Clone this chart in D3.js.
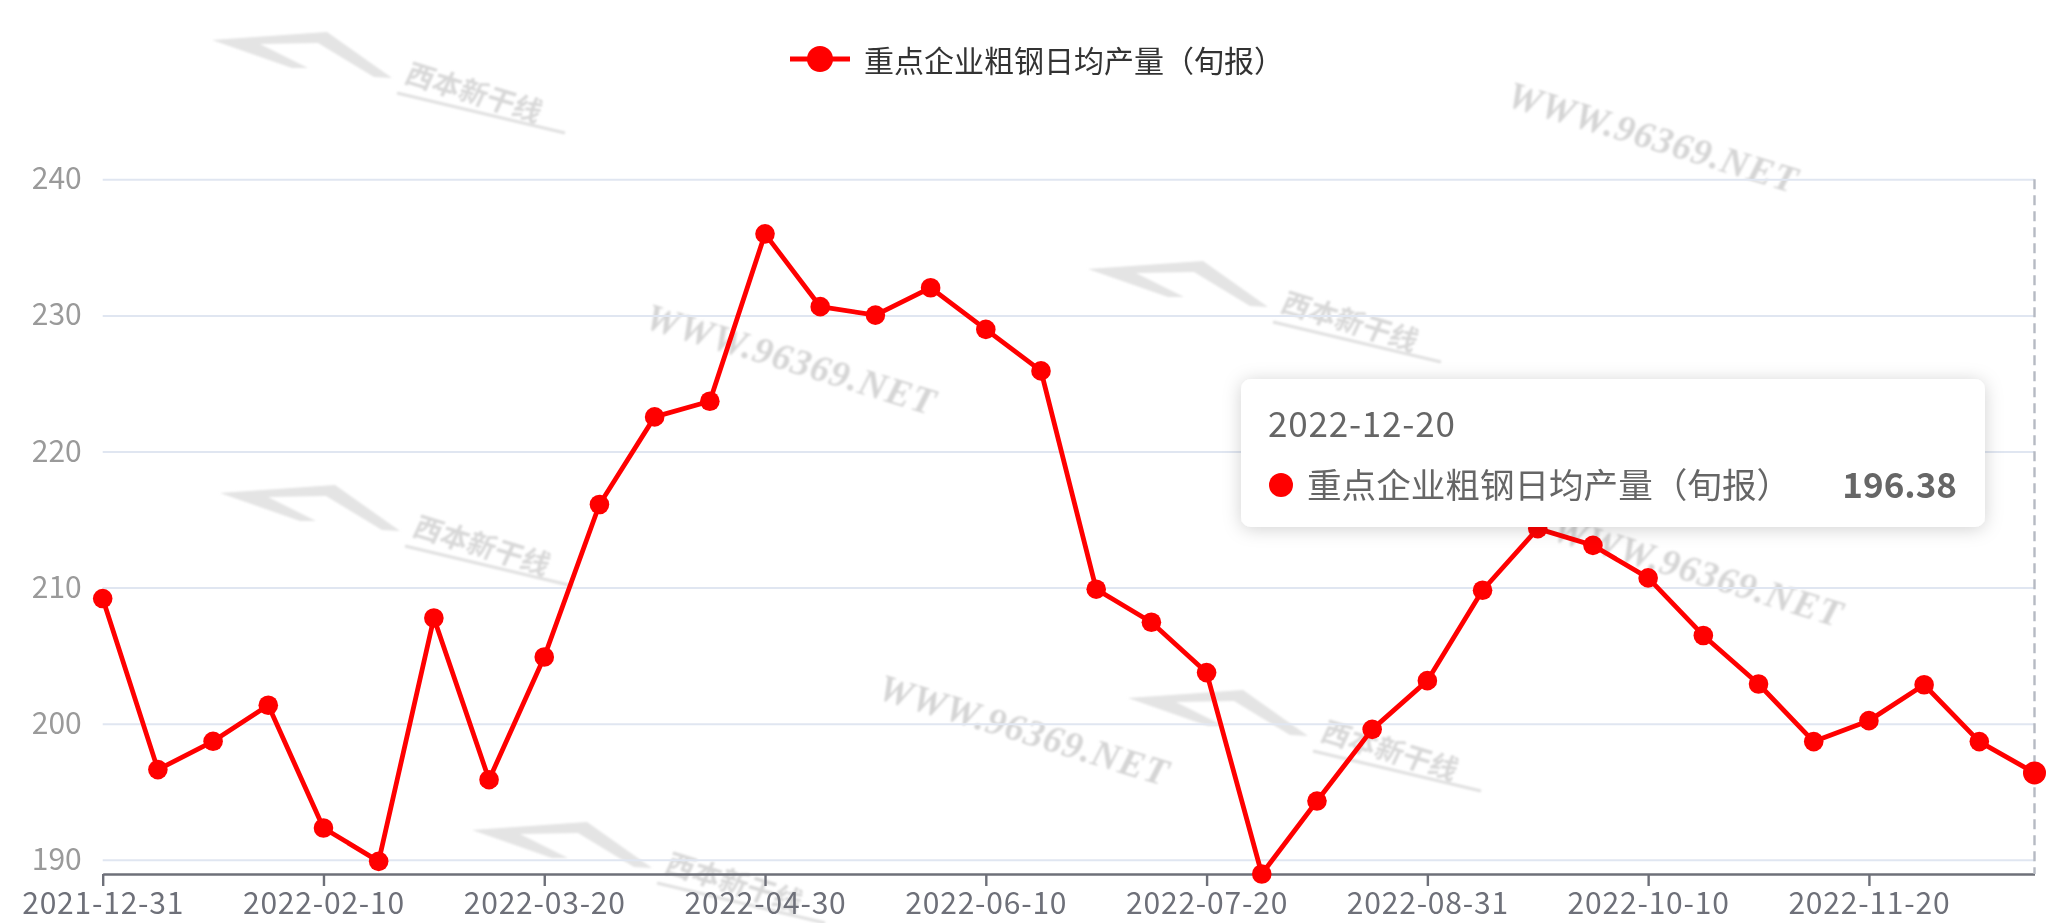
<!DOCTYPE html>
<html>
<head>
<meta charset="utf-8">
<script src="https://cdn.jsdelivr.net/npm/d3@7"></script>
<style>
  html, body { margin: 0; padding: 0; background: #fff; }
  svg { display: block; }
</style>
</head>
<body>
<svg id="chart" width="2063" height="923"></svg>
<script>
// ---------- data ----------
const seriesName = "重点企业粗钢日均产量（旬报）";
const dates = [
  "2021-12-31","2022-01-10","2022-01-20","2022-01-31","2022-02-10","2022-02-20","2022-02-28",
  "2022-03-10","2022-03-20","2022-03-31","2022-04-10","2022-04-20","2022-04-30","2022-05-10",
  "2022-05-20","2022-05-31","2022-06-10","2022-06-20","2022-06-30","2022-07-10","2022-07-20",
  "2022-07-31","2022-08-10","2022-08-20","2022-08-31","2022-09-10","2022-09-20","2022-09-30",
  "2022-10-10","2022-10-20","2022-10-31","2022-11-10","2022-11-20","2022-11-30","2022-12-10",
  "2022-12-20"
];
const values = [
  209.19, 196.62, 198.70, 201.35, 192.33, 189.88, 207.76,
  195.88, 204.90, 216.10, 222.54, 223.69, 235.99, 230.64,
  230.02, 232.03, 228.97, 225.92, 209.88, 207.45, 203.75,
  188.95, 194.31, 199.58, 203.16, 209.80, 214.33, 213.10,
  210.71, 206.48, 202.91, 198.68, 200.22, 202.86, 198.68,
  196.38
];
const yTicks = [190, 200, 210, 220, 230, 240];
const xTickLabels = ["2021-12-31","2022-02-10","2022-03-20","2022-04-30","2022-06-10",
                     "2022-07-20","2022-08-31","2022-10-10","2022-11-20"];
const yMax = 240;
const tooltipIndex = 35;

// ---------- layout ----------
const W = 2063, H = 923;
const plot = { left: 102.7, right: 2034.5, top: 179.3, bottom: 874 };
const cjk = "'Noto Sans CJK SC', 'Noto Sans', sans-serif";

const svg = d3.select("#chart");
const defs = svg.append("defs");
const f = defs.append("filter").attr("id", "shadow")
  .attr("x", "-10%").attr("y", "-30%").attr("width", "120%").attr("height", "160%");
f.append("feDropShadow").attr("dx", 0).attr("dy", 2).attr("stdDeviation", 9)
  .attr("flood-color", "#000").attr("flood-opacity", 0.18);
const blur = defs.append("filter").attr("id", "wmblur");
blur.append("feGaussianBlur").attr("stdDeviation", 0.9);

// ---------- watermarks (background) ----------
const wm = svg.append("g").attr("filter", "url(#wmblur)");
const logos = [[380, 80], [1256, 309], [388, 533], [1296, 738], [640, 870]];
logos.forEach(([cx, cy]) => {
  const g = wm.append("g").attr("transform", `translate(${cx},${cy})`);
  g.append("path")
    .attr("d", "M-168,-40 L-53,-48 L12,-2 L-6,-3 L-62,-37 L-120,-36 L-72,-12 L-88,-12 Z")
    .attr("fill", "#e4e4e4");
  g.append("text")
    .attr("transform", "translate(93,15) rotate(17) skewX(-8)")
    .attr("text-anchor", "middle").attr("dominant-baseline", "middle")
    .attr("font-family", cjk).attr("font-size", 28).attr("font-weight", 700)
    .attr("fill", "#d8d8d8").text("西本新干线");
  g.append("line").attr("x1", 17).attr("y1", 13).attr("x2", 185).attr("y2", 53)
    .attr("stroke", "#e0e0e0").attr("stroke-width", 3);
});
const wwws = [[1652, 141], [790, 363], [1697, 575], [1023, 734]];
wwws.forEach(([cx, cy]) => {
  wm.append("text")
    .attr("transform", `translate(${cx},${cy}) rotate(17)`)
    .attr("text-anchor", "middle").attr("dominant-baseline", "middle")
    .attr("font-family", "'Liberation Serif', serif").attr("font-style", "italic")
    .attr("font-weight", 700).attr("font-size", 38).attr("letter-spacing", 1)
    .attr("fill", "#d4d4d4").text("WWW.96369.NET");
});

// ---------- scales ----------
const x = d3.scalePoint().domain(dates).range([plot.left, plot.right]);
const y = d3.scaleLinear().domain([d3.min(values), yMax]).range([plot.bottom, plot.top]);

// ---------- y grid + labels ----------
const yAxis = svg.append("g").attr("transform", `translate(${plot.left},0)`)
  .call(d3.axisLeft(y).tickValues(yTicks).tickSize(-(plot.right - plot.left)).tickPadding(21)
        .tickFormat(d3.format("d")));
yAxis.select(".domain").remove();
yAxis.selectAll(".tick line").attr("stroke", "#E0E6F1").attr("stroke-width", 2);
yAxis.selectAll(".tick text").attr("fill", "#9a9a9a").attr("font-size", 30)
  .attr("font-family", cjk);

// ---------- x axis ----------
const xAxis = svg.append("g").attr("transform", `translate(0,${plot.bottom})`)
  .call(d3.axisBottom(x).tickValues(xTickLabels).tickSize(12).tickPadding(7).tickSizeOuter(0));
xAxis.select(".domain").attr("stroke", "#6E7079").attr("stroke-width", 2.4);
xAxis.selectAll(".tick line").attr("stroke", "#6E7079").attr("stroke-width", 2.4);
xAxis.selectAll(".tick text").attr("fill", "#6E7079").attr("font-size", 30)
  .attr("font-family", cjk).attr("letter-spacing", 0.8);

// ---------- axis pointer ----------
svg.append("line")
  .attr("x1", x(dates[tooltipIndex])).attr("x2", x(dates[tooltipIndex]))
  .attr("y1", plot.top).attr("y2", plot.bottom)
  .attr("stroke", "#B6BAC3").attr("stroke-width", 2.4).attr("stroke-dasharray", "10,6");

// ---------- line + points ----------
const pts = dates.map((d, i) => ({ d, v: values[i], i }));
svg.append("path").datum(pts)
  .attr("fill", "none").attr("stroke", "#FF0000").attr("stroke-width", 4.8)
  .attr("stroke-linejoin", "round")
  .attr("d", d3.line().x(p => x(p.d)).y(p => y(p.v)));
svg.append("g").selectAll("circle").data(pts).join("circle")
  .attr("cx", p => x(p.d)).attr("cy", p => y(p.v))
  .attr("r", p => p.i === tooltipIndex ? 11.5 : 9.8)
  .attr("fill", "#FF0000");

// ---------- legend ----------
const lg = svg.append("g");
lg.append("line").attr("x1", 790).attr("x2", 850).attr("y1", 59).attr("y2", 59)
  .attr("stroke", "#FF0000").attr("stroke-width", 5);
lg.append("circle").attr("cx", 820).attr("cy", 59).attr("r", 13).attr("fill", "#FF0000");
lg.append("text").attr("x", 864).attr("y", 59).attr("dominant-baseline", "central")
  .attr("font-family", cjk).attr("font-size", 30).attr("fill", "#333").text(seriesName);

// ---------- tooltip ----------
const tt = svg.append("g");
tt.append("rect").attr("x", 1241).attr("y", 379).attr("width", 744).attr("height", 148)
  .attr("rx", 10).attr("fill", "#fff").attr("filter", "url(#shadow)");
tt.append("text").attr("x", 1268).attr("y", 437)
  .attr("font-family", cjk).attr("font-size", 35).attr("letter-spacing", 0.8).attr("fill", "#666")
  .text(dates[tooltipIndex]);
tt.append("circle").attr("cx", 1281).attr("cy", 485).attr("r", 12).attr("fill", "#FF0000");
tt.append("text").attr("x", 1307).attr("y", 498)
  .attr("font-family", cjk).attr("font-size", 34.6).attr("fill", "#666").text(seriesName);
tt.append("text").attr("x", 1957).attr("y", 498).attr("text-anchor", "end")
  .attr("font-family", cjk).attr("font-size", 35).attr("font-weight", 700).attr("fill", "#666")
  .text(d3.format(".2f")(values[tooltipIndex]));
</script>
</body>
</html>
